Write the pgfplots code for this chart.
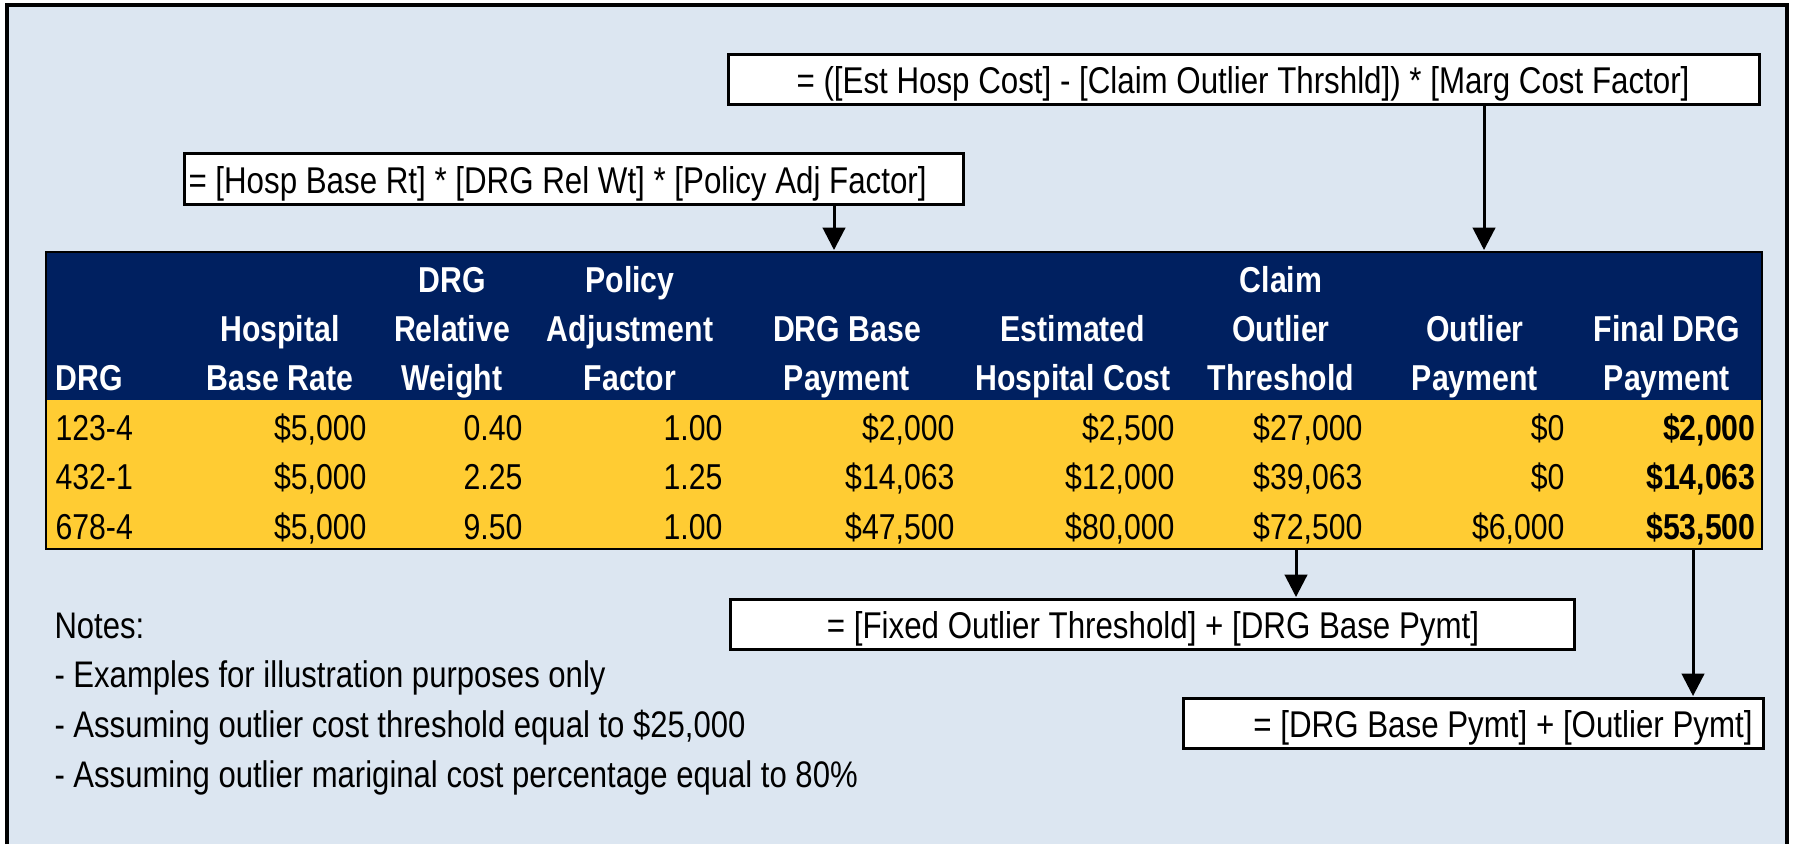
\documentclass[border=0pt]{standalone}
\usepackage{fontspec}
\setmainfont{Liberation Sans}[FakeStretch=0.84]
\usepackage{pgfplots}
\pgfplotsset{compat=1.18}
\usetikzlibrary{arrows.meta}
\definecolor{bgblue}{RGB}{220,230,241}
\definecolor{navy}{RGB}{0,32,96}
\definecolor{gold}{RGB}{255,204,51}
\begin{document}
\begin{tikzpicture}[font=\fontsize{14.4}{17}\selectfont]
\begin{axis}[scale only axis, width=719.2pt, height=337.6pt,
  xmin=0, xmax=1798, ymin=0, ymax=844, y dir=reverse,
  hide axis, clip=false]
% background
\fill[white] (0,0) rectangle (1798,844);
\fill[bgblue] (7,5) rectangle (1787,844);
\draw[line width=1.3pt] (7,844) -- (7,5) -- (1787,5) -- (1787,844);
% formula boxes
\begin{scope}[every node/.style={font=\fontsize{14.9}{17}\selectfont, inner sep=0pt}]
\draw[line width=1.2pt, fill=white] (728,54) rectangle (1759,104);
\node[anchor=base] at (1243,93) {= ([Est Hosp Cost] - [Claim Outlier Thrshld]) * [Marg Cost Factor]};
\draw[line width=1.2pt, fill=white] (184,153) rectangle (963,204);
\node[anchor=base west] at (188,193) {= [Hosp Base Rt] * [DRG Rel Wt] * [Policy Adj Factor]};
\draw[line width=1.2pt, fill=white] (730,599) rectangle (1574,649);
\node[anchor=base] at (1153,638) {= [Fixed Outlier Threshold] + [DRG Base Pymt]};
\draw[line width=1.2pt, fill=white] (1183,698) rectangle (1763,748);
\node[anchor=base east] at (1753,737) {= [DRG Base Pymt] + [Outlier Pymt]};
\end{scope}
% arrows
\draw[line width=1.2pt, -{Triangle[length=9pt,width=9pt]}] (1484,104) -- (1484,250);
\draw[line width=1.2pt, -{Triangle[length=9pt,width=9pt]}] (834,204) -- (834,250);
\draw[line width=1.2pt, -{Triangle[length=9pt,width=9pt]}] (1296,549) -- (1296,597);
\draw[line width=1.2pt, -{Triangle[length=9pt,width=9pt]}] (1693,549) -- (1693,696);
% table
\fill[navy] (46,252) rectangle (1762,400);
\fill[gold] (46,400) rectangle (1762,549);
\draw[line width=1pt] (46,252) rectangle (1762,549);
\begin{scope}[every node/.style={text=white, font=\fontsize{14.4}{17}\selectfont\bfseries, inner sep=0pt, anchor=base}]
\node[anchor=base west] at (55,390) {DRG};
\node at (280,341) {Hospital};
\node at (280,390) {Base Rate};
\node at (452,292) {DRG};
\node at (452,341) {Relative};
\node at (452,390) {Weight};
\node at (630,292) {Policy};
\node at (630,341) {Adjustment};
\node at (630,390) {Factor};
\node at (847,341) {DRG Base};
\node at (847,390) {Payment};
\node at (1073,341) {Estimated};
\node at (1073,390) {Hospital Cost};
\node at (1281,292) {Claim};
\node at (1281,341) {Outlier};
\node at (1281,390) {Threshold};
\node at (1475,341) {Outlier};
\node at (1475,390) {Payment};
\node at (1667,341) {Final DRG};
\node at (1667,390) {Payment};
\end{scope}
\begin{scope}[every node/.style={inner sep=0pt, anchor=base east}]
% row 1
\node[anchor=base west] at (55,440) {123-4};
\node at (367,440) {\$5,000};
\node at (523,440) {0.40};
\node at (723,440) {1.00};
\node at (955,440) {\$2,000};
\node at (1175,440) {\$2,500};
\node at (1363,440) {\$27,000};
\node at (1565,440) {\$0};
\node[font=\fontsize{14.4}{17}\selectfont\bfseries] at (1756,440) {\$2,000};
% row 2
\node[anchor=base west] at (55,489) {432-1};
\node at (367,489) {\$5,000};
\node at (523,489) {2.25};
\node at (723,489) {1.25};
\node at (955,489) {\$14,063};
\node at (1175,489) {\$12,000};
\node at (1363,489) {\$39,063};
\node at (1565,489) {\$0};
\node[font=\fontsize{14.4}{17}\selectfont\bfseries] at (1756,489) {\$14,063};
% row 3
\node[anchor=base west] at (55,539) {678-4};
\node at (367,539) {\$5,000};
\node at (523,539) {9.50};
\node at (723,539) {1.00};
\node at (955,539) {\$47,500};
\node at (1175,539) {\$80,000};
\node at (1363,539) {\$72,500};
\node at (1565,539) {\$6,000};
\node[font=\fontsize{14.4}{17}\selectfont\bfseries] at (1756,539) {\$53,500};
\end{scope}
% notes
\begin{scope}[every node/.style={inner sep=0pt, anchor=base west, font=\fontsize{14.8}{17}\selectfont}]
\node at (54,638) {Notes:};
\node at (54,687) {- Examples for illustration purposes only};
\node at (54,737) {- Assuming outlier cost threshold equal to \$25,000};
\node at (54,787) {- Assuming outlier mariginal cost percentage equal to 80\%};
\end{scope}
\end{axis}
\pgfresetboundingbox
\path[use as bounding box] (current axis.south west) rectangle (current axis.north east);
\end{tikzpicture}
\end{document}
